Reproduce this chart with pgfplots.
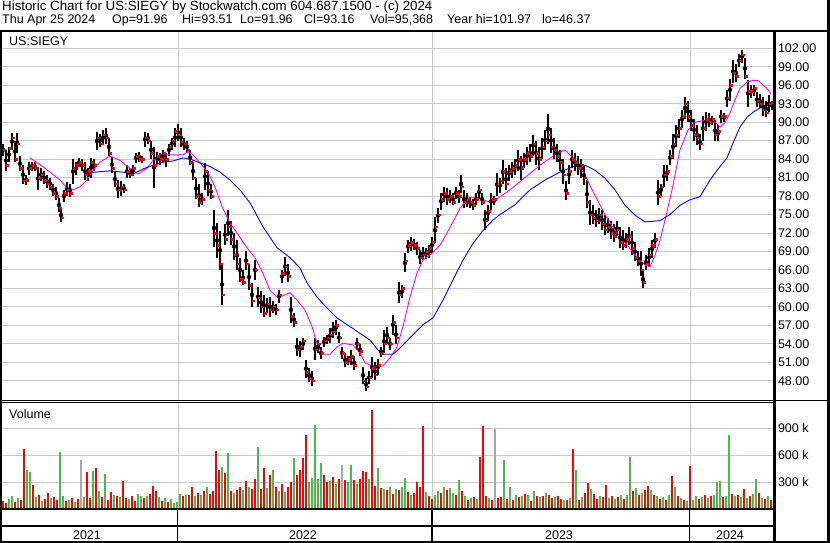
\documentclass[border=0pt]{standalone}
\usepackage{fontspec}
\setmainfont{Liberation Sans}
\usepackage{pgfplots}
\usepackage{pgfplotstable}
\pgfplotsset{compat=1.18}
\definecolor{volred}{HTML}{FF0000}
\definecolor{volgreen}{HTML}{4DB84D}
\definecolor{volgray}{HTML}{A8A8A8}
\definecolor{gridgray}{HTML}{C8C8C8}

% daily bars (x = trading-day position), high, low, close
\pgfplotstableread{
x h l c
3 86.5 84.5 85.5
6 85.5 82 83
9 86 83.5 85.8
12 88.2 85.5 87.5
15 87 83.5 84
17 88.3 85 86.5
20 84.5 82 82.5
23 83 80 80.5
26 81.5 79.8 80.6
29 83.5 81.5 82.5
32 83.5 82 83
35 83.5 82 82.5
38 82.7 79 81
41 82.5 80.5 81.5
44 82 80 80.5
47 81.5 79.3 80
50 81 79 79.5
53 80 78 78.5
56 79.5 77.4 78
59 77.7 75.4 76
61 76 73.8 74.5
64 79 77 78.5
67 80.3 78 79
70 80 77.9 78.5
73 84 80 82.5
76 83.5 81.5 83
79 84.2 82.7 83.5
82 84 82 83
85 83.5 80.6 81.5
88 82.5 80.5 82
91 84.2 81 83.5
94 84 82 83
97 88.4 85.5 87.5
100 88 86 86.5
103 88.7 86.3 88
106 89 86.5 87.5
109 87.5 84.5 85
112 84.4 81.8 82.5
115 82 79.5 80
118 80.6 77.7 79
121 80.5 78 79.5
124 80 78.5 79
127 83 81 82
130 82.5 81 81.5
133 83 81.3 82.5
136 85 83.4 84.5
139 85.2 83.5 84
142 84.5 83.4 84
145 88.4 86 87.5
148 88.3 86.5 87
151 87 84 85
154 86 79.3 83
157 85.2 83 84.5
160 85 83 84
163 85.5 83.5 85
166 85 82.7 84
169 86.5 84.5 86
172 87.5 85.5 87
175 89 86 88.5
178 89.7 87 88
181 89 86 86.8
184 87.4 85.5 86.5
187 87 85 85.5
190 85.5 83 83.5
193 83.5 80.6 81
196 81 77.5 78
199 80 76.3 77
202 78.5 76.5 77.5
205 83.4 79 82
208 82 78 79
211 80 77.5 78
214 75.8 69.8 72
217 73.6 68 70
220 72.4 66 67
222 67 60.3 62
225 73.5 70 71
228 75.7 71.5 73
231 74 70 71
234 72 67.6 68.5
237 70.8 66 67
240 68 64 64.5
243 66 63.5 64
246 69 66 67
249 67 62.7 63.5
252 63.9 60 61
255 67.6 64.4 66
258 63.3 60 61.5
261 62.5 59 60
264 62 58.4 59
267 61.5 59 60.5
270 61.6 58.4 59.5
273 61 59 60
276 60.5 58.6 59.5
279 62.8 60.6 62
282 66 63.9 65.5
285 68.1 65 66.5
288 67 64 65
291 61.6 57.4 58.5
294 59 56.8 57.5
297 55 52 53
300 54.5 51.9 53.5
303 55 53 54.5
306 51.4 48.5 49.5
309 50 47.8 48.3
312 49.5 47.2 48
315 55 51.4 53
318 54.6 52.5 54
321 53.5 51.5 52.5
324 55.1 53.5 54.5
327 55.5 54 55
330 56.5 54.1 55.5
333 57.5 55 56
336 57.9 55.5 57
339 55.9 54.1 55
342 53.5 51.5 52.5
345 52.5 50.3 51
348 52 50.5 51.5
351 53 50.5 52
354 52 49.8 50.5
357 55 53 54
360 54 52 52.8
363 50.3 47.5 48
366 48.5 46.4 47
369 49.5 47.5 48.5
372 51.9 48.5 50
375 51 48.1 49
378 51.5 49 50.5
381 53.5 51.9 52.5
384 56.3 52.5 54
387 56.8 54 55
390 55 53 54
393 58.7 55.5 57.5
396 57 54 55
399 64 60.6 62
402 63.5 61.5 63
405 68.7 65.6 67.5
408 70.9 68.7 70
411 71.4 69 70.5
414 71 69.2 70
417 70.5 68.5 69.5
420 69.2 67 68
423 69.7 67.6 68.5
426 69.5 67.8 69
429 70 68 69.5
432 71.4 68.7 70.5
435 74.6 70.3 73
438 76 73.6 75
441 78.5 75.8 77.5
444 79.5 77 78.5
447 79.3 76.5 77.5
450 79 76.8 78
453 78.5 76.5 77
456 79.5 77.5 78.5
459 79 76.8 78
461 81.4 78.5 79.5
464 79 76 77
467 78.5 76.3 77.5
470 77.9 76 77
473 77.5 75.8 76.5
476 78.5 76.5 77.5
479 79.8 77.5 79
482 78.5 76.5 77
485 75.8 72.5 74
488 76.5 74 75.5
491 78.5 75.8 77.5
494 78 76.5 77.5
497 81.8 78 80
500 81 78.5 80.5
503 83.8 80 82
506 82.5 79 80
509 83 80.5 82
512 83.5 81 82.5
515 84 81.5 83
518 85.5 82 84
521 84.5 80.6 82.5
524 85 82.5 84
527 86 83 85
530 86.5 83.5 84.5
533 87.9 84.5 86.5
536 87 83 85
539 86 82.2 84
542 87.5 84 86
545 88.7 85.5 87
548 91.3 86.5 88
551 89 85 86
554 87.5 84 85.5
557 86.5 83.5 84.5
560 85.5 82 83.5
563 84 80 81.5
566 80.5 77.3 78.5
569 83 80 82
572 85.5 82.5 84
575 85 82 83.5
578 84.5 81.5 82.5
581 84 81 83
584 83 79.8 81
587 80.6 76 77
590 77.3 73.3 75
593 76.5 73.5 74.5
596 75.7 73 74
599 76 73.5 75
602 75.7 72.5 73.5
605 75 71.7 72.5
608 74.5 72 73
611 74 71 72
614 73.5 70.5 71.5
617 74 71.5 72.5
620 73 69.5 70.5
623 72.5 69.2 70
626 72 69.5 71
629 73 70 71.5
632 72.4 68.5 69.5
635 70.5 67.5 68
638 69 66.7 67.5
641 69 65 66
643 66 63 64
646 68.5 66 67
649 69.5 66.5 68.5
652 70.8 68 70
655 72 69.5 71
658 80.6 76.5 78
661 80 78 79.5
664 83 79.5 81.5
667 83 80.5 82
670 85.5 83 84.5
673 88 84 86.5
676 89.5 86 88
679 90.5 87.5 89
682 92 89 91
685 94.1 90.5 93
688 93.5 90 91
691 92 88.5 89.5
694 90.5 87 88
697 89.5 86.3 87.5
700 88 85.5 86.5
703 91 87 89
706 91.6 88.5 90.5
709 91.5 89.2 90
712 91 89.5 90.5
715 90.3 87 88
718 89.5 87 88.5
721 92 89.9 91
724 91.5 90 91
727 95.2 92.5 94
730 97 93.5 96
733 100.1 96.4 98
736 99.5 96.5 97.5
739 101 99 100
742 101.8 99.6 101
745 100.5 97 97.5
748 96.9 92.5 95
751 96 94 95
754 96 94.3 95.5
757 94.9 92.5 93.5
760 94.5 92.3 93
763 94.1 91 92
766 93.5 90.8 91.5
769 94.4 91.7 93
772 93.51 91.96 93.16
}\pricedata

\begin{document}
\begin{tikzpicture}[x=1pt,y=1pt,font=\fontsize{12.5}{14}\selectfont]
\useasboundingbox (0,0) rectangle (830,543);
\fill[white] (0,0) rectangle (830,543);

% ---- price panel
\begin{axis}[
  at={(2pt,143pt)}, anchor=south west, scale only axis,
  width=771pt, height=368pt,
  xmin=2, xmax=773, ymin=44.87, ymax=104.65,
  axis line style={draw=none},
  xtick={178,432,690}, xticklabels={}, xtick style={draw=none},
  ytick={48,51,...,102}, ytick style={draw=none},
  yticklabels={48.00,51.00,54.00,57.00,60.00,63.00,66.00,69.00,72.00,75.00,78.00,81.00,84.00,87.00,90.00,93.00,96.00,99.00,102.00},
  yticklabel pos=right,
  yticklabel style={anchor=west, xshift=1.5pt, font=\fontsize{12.5}{14}\selectfont},
  grid=major, grid style={draw=gridgray, line width=0.9pt},
]
\addplot[only marks, mark=none, forget plot,
  error bars/.cd, y dir=both, y explicit, error mark=none,
  error bar style={draw=black, solid, line width=1.5pt}]
  table[x=x, y expr={(\thisrow{h}+\thisrow{l})/2}, y error expr={(\thisrow{h}-\thisrow{l})/2}] {\pricedata};
\addplot[only marks, mark=square*, mark size=0.75pt, color=red, forget plot]
  table[x expr={\thisrow{x}+1}, y=c] {\pricedata};
% short moving average
\addplot[color={rgb,255:red,255;green,0;blue,255}, line width=0.9pt] coordinates {
(30,84.2)(40,83.1)(50,81.9)(60,80.6)(67,79.3)(73,79)(80,79.5)(87,80.6)(93,82.2)(100,83.5)
(110,84.5)(120,83.8)(130,82.5)(138,81.6)(147,82.5)(153,83.8)(160,84.7)(173,84.7)(183,84.7)
(188,85.2)(193,84.7)(200,83.4)(208,81.8)(215,79.5)(222,76.3)(230,73.6)(237,72)(247,69.6)
(255,68)(263,65.4)(270,62.7)(277,61.6)(283,61.8)(290,62.3)(297,61.1)(305,59.5)(312,56.8)
(317,54.1)(322,52.3)(330,52.3)(337,53.5)(343,54.1)(353,53.8)(360,52.5)(365,50.9)(373,50.4)
(383,50.4)(390,51.7)(397,53.5)(403,56.8)(410,61.6)(417,65.5)(423,67.6)(432,68.7)(440,70)
(447,72)(453,73.8)(460,76)(468,77.7)(477,77.7)(483,77.4)(490,77)(497,77.5)(510,79)(525,81)
(540,83)(555,84.7)(565,85.5)(575,83.8)(585,81.4)(595,78.1)(605,75)(615,72.4)(625,70.5)
(635,68.4)(645,66.8)(650,66.5)(655,68.4)(660,70.8)(665,74.1)(672,79)(680,85.5)(688,88.7)
(695,90)(705,90.3)(710,90.2)(715,90)(720,89.2)(725,89.9)(730,91.5)(735,93.6)(740,95.5)
(747,96.5)(753,96.8)(758,96.8)(763,96)(767,95.5)(771,94.6)};
% long moving average
\addplot[blue, line width=0.9pt] coordinates {
(90,81.8)(110,82.1)(127,81.8)(133,81.6)(143,82.4)(153,83)(163,83.5)(173,83.7)(183,84.2)
(190,84)(200,83.4)(210,82.8)(220,81.9)(230,80.6)(240,79)(250,76.9)(263,73)(277,69.6)
(290,68)(300,66.3)(307,63.9)(317,61.6)(327,59.8)(337,58.2)(350,56.8)(360,55.7)(370,54.6)
(378,53)(383,52.3)(393,52.3)(400,53.3)(410,55)(423,57.1)(433,58.2)(443,61.1)(453,64.4)
(463,67.6)(473,70.3)(483,72.4)(493,74.1)(500,75)(515,76.6)(530,79)(545,80.6)(560,81.9)
(575,82.9)(585,83)(595,82.2)(605,80.9)(615,79)(625,76.5)(635,74.9)(645,73.8)(660,74)
(670,75)(680,76.5)(690,77.4)(700,77.9)(710,80.6)(720,82.8)(727,84.2)(733,86.6)(740,89.2)
(747,90.8)(753,91.6)(760,92.3)(767,92.6)(771,93)};
\end{axis}

% ---- volume panel (thousands)
\begin{axis}[
  at={(2pt,34pt)}, anchor=south west, scale only axis,
  width=771pt, height=106pt,
  xmin=2, xmax=773, ymin=0, ymax=1182,
  axis line style={draw=none},
  xtick={178,432,690}, xticklabels={}, xtick style={draw=none},
  ytick={300,600,900}, yticklabels={300 k,600 k,900 k}, ytick style={draw=none},
  yticklabel pos=right,
  yticklabel style={anchor=west, xshift=1.5pt, font=\fontsize{12.5}{14}\selectfont},
  grid=major, grid style={draw=gridgray, line width=0.9pt},
]
\addplot[ycomb, draw=volred, line width=2.9pt] coordinates {
(3,90)(6,70)(15,80)(21,100)(24,670)(33,270)(39,160)(45,110)(48,180)(54,130)(57,100)(66,90)
(72,120)(78,110)(87,410)(90,120)(96,460)(102,130)(108,100)(111,190)(117,140)(123,310)(126,120)
(132,150)(135,90)(144,120)(150,170)(153,260)(156,200)(162,90)(168,80)
(183,140)(189,160)(192,240)(198,180)(204,200)(210,170)(213,200)(216,650)(219,430)(225,400)
(231,200)(237,210)(240,250)(246,310)(252,220)(255,330)(261,220)(264,460)(270,380)(276,240)
(282,280)(288,240)(291,300)(297,380)(300,440)(303,570)(306,830)(324,380)(327,300)(333,360)
(339,330)(345,320)(354,320)(360,330)(363,420)(366,410)(372,1100)(375,260)(381,230)(387,210)
(393,170)(399,210)(408,190)(414,180)(417,300)(420,240)(423,930)(429,150)
(432,110)(441,180)(447,210)(456,160)(462,200)(468,100)(474,130)(480,580)(483,920)(486,150)
(492,100)(498,120)(501,130)(507,110)(513,100)(519,130)(525,170)(531,90)(537,140)(543,150)
(549,160)(552,120)(558,150)(561,110)(567,100)(573,670)(579,100)(585,180)(588,290)(594,170)
(597,110)(603,130)(606,270)(612,140)(618,130)(624,110)(633,200)(639,160)(645,210)(648,260)
(654,160)(660,110)(666,100)(672,370)(678,140)(684,100)
(690,480)(699,110)(705,160)(711,140)(723,130)(732,170)(738,160)(744,220)(750,140)(759,180)
(765,110)(771,100)};
\addplot[ycomb, draw=volgreen, line width=2.9pt] coordinates {
(9,110)(12,150)(18,120)(27,440)(30,410)(36,130)(42,90)(51,120)(60,640)(63,150)(69,100)(75,80)
(84,130)(93,420)(99,200)(105,390)(114,160)(120,130)(129,110)(138,170)(141,150)(147,140)(159,130)
(165,120)(171,110)(174,70)(177,80)
(180,170)(186,160)(195,140)(201,160)(207,240)(222,470)(228,620)(234,180)(243,210)(249,240)
(258,690)(267,230)(273,440)(279,200)(285,190)(294,570)(309,300)(312,350)(315,940)(318,330)
(321,510)(330,310)(336,280)(348,300)(351,490)(357,280)(369,340)(378,460)(384,220)(390,250)
(396,220)(402,240)(405,350)(411,160)(426,190)
(435,160)(438,200)(444,240)(450,230)(453,180)(459,320)(465,140)(471,120)(477,110)(489,120)
(504,550)(510,250)(516,160)(522,140)(528,160)(534,200)(540,130)(546,180)(555,130)(564,100)
(570,120)(576,440)(582,130)(591,220)(600,150)(609,120)(615,110)(621,160)(627,160)(630,580)
(636,230)(642,180)(651,210)(657,140)(663,130)(669,160)(675,250)(681,120)(687,90)
(693,100)(696,150)(702,130)(708,120)(714,160)(717,300)(720,310)(726,150)(729,820)(735,140)
(741,130)(747,120)(753,170)(756,330)(762,120)(768,140)};
\addplot[ycomb, draw=volgray, line width=2.9pt] coordinates {
(81,550)(342,490)(495,890)};
\end{axis}

% ---- frame
\draw[line width=2pt] (0,512) -- (830,512);
\draw[line width=2pt] (1,512) -- (1,0);
\draw[line width=3pt] (828.5,543) -- (828.5,0);
\draw[line width=3pt] (774.5,512) -- (774.5,0);
\draw[line width=2.5pt] (0,1.2) -- (830,1.2);
\draw[line width=1pt] (0,142.5) -- (774,142.5);
\draw[line width=1pt] (0,140.5) -- (774,140.5);
\draw[line width=1pt] (774,142) -- (830,142);
\draw[line width=2pt] (0,33.5) -- (774,33.5);
\draw[line width=2pt] (0,16.5) -- (774,16.5);
\foreach \xx in {177.5,432,689.5} \draw[line width=1.3pt] (\xx,33) -- (\xx,1);

% ---- texts
\node[anchor=base west, inner sep=0, font=\fontsize{13.3}{15}\selectfont] at (2,532) {Historic Chart for US:SIEGY by Stockwatch.com 604.687.1500 - (c) 2024};
\begin{scope}[every node/.style={anchor=base west, inner sep=0, font=\fontsize{12.5}{14}\selectfont}]
\node at (2,519.5) {Thu Apr 25 2024};
\node at (112,519.5) {Op=91.96};
\node at (182,519.5) {Hi=93.51};
\node at (240,519.5) {Lo=91.96};
\node at (304,519.5) {Cl=93.16};
\node at (370,519.5) {Vol=95,368};
\node at (447,519.5) {Year hi=101.97};
\node at (542,519.5) {lo=46.37};
\end{scope}
\node[anchor=base west, inner sep=0] at (9,497.3) {US:SIEGY};
\node[anchor=base west, inner sep=0] at (9,124.7) {Volume};
\node[anchor=base, inner sep=0] at (87,3) {2021};
\node[anchor=base, inner sep=0] at (303,3) {2022};
\node[anchor=base, inner sep=0] at (559,3) {2023};
\node[anchor=base, inner sep=0] at (730,3) {2024};
\end{tikzpicture}
\end{document}
